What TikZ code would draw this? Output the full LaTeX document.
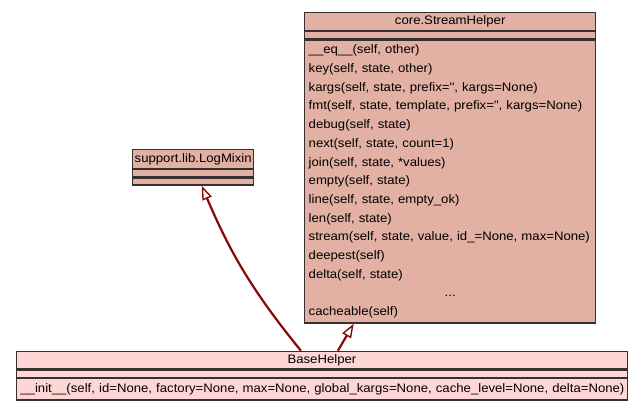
\documentclass[tikz,border=0pt]{standalone}
\usepackage{fontspec}
\setmainfont{Liberation Sans}[FakeStretch=1.07]
\usetikzlibrary{positioning, arrows.meta}
\definecolor{classfill}{RGB}{226,177,163}
\definecolor{basefill}{RGB}{255,214,214}
\definecolor{classline}{RGB}{56,48,48}
\definecolor{inheritred}{RGB}{135,8,8}
\newcommand{\qq}{\textquotesingle\textquotesingle}

\begin{document}
\begin{tikzpicture}[x=1pt, y=-1pt, node distance=0pt,
    classpart/.style={draw=classline, line width=1.4pt, fill=classfill, inner sep=0pt, font=\fontsize{12.3}{18.7}\selectfont},
    classname/.style={classpart, minimum height=17.5pt},
    classattr/.style={classpart, minimum height=7pt},
    classops/.style={classpart, align=left, inner xsep=4pt, inner ysep=4.9pt},
    inherit/.style={draw=inheritred, line width=2.2pt, -{Triangle[open, fill=white, length=14pt, width=10pt, line width=1.4pt]}}]
    \useasboundingbox (0,0) rectangle (643,408);

    % core.StreamHelper
    \node[classname, minimum width=291pt, anchor=north west] (stream) at (304,12) {core.StreamHelper};
    \node[classattr, minimum width=291pt, below=of stream] (streamattr) {};
    \node[classops, text width=283pt, below=of streamattr] (streamops) {\_\_eq\_\_(self, other)\\
        key(self, state, other)\\
        kargs(self, state, prefix=\qq, kargs=None)\\
        fmt(self, state, template, prefix=\qq, kargs=None)\\
        debug(self, state)\\
        next(self, state, count=1)\\
        join(self, state, *values)\\
        empty(self, state)\\
        line(self, state, empty\_ok)\\
        len(self, state)\\
        stream(self, state, value, id\_=None, max=None)\\
        deepest(self)\\
        delta(self, state)\\
        \leavevmode\hbox to\hsize{\hss...\hss}\\
        cacheable(self)};

    % support.lib.LogMixin
    \node[classname, minimum width=121pt, minimum height=18.5pt, anchor=north west] (logmixin) at (132,149) {support.lib.LogMixin};
    \node[classattr, minimum width=121pt, below=of logmixin] (logattr) {};
    \node[classattr, minimum width=121pt, below=of logattr] (logops) {};

    % BaseHelper
    \node[classname, fill=basefill, minimum width=611pt, anchor=north west] (base) at (15.7,350.7) {BaseHelper};
    \node[classattr, fill=basefill, minimum width=611pt, below=of base] (baseattr) {};
    \node[classops, fill=basefill, text width=603pt, below=of baseattr] (baseops) {\mbox{\_\_init\_\_(self, id=None, factory=None, max=None, global\_kargs=None, cache\_level=None, delta=None)}};

    \draw[inherit] ([xshift=-21pt]base.north) to[bend left=8] ([xshift=8.5pt]logops.south);
    \draw[inherit] ([xshift=16pt]base.north) -- ([xshift=-96.5pt]streamops.south);
\end{tikzpicture}
\end{document}
